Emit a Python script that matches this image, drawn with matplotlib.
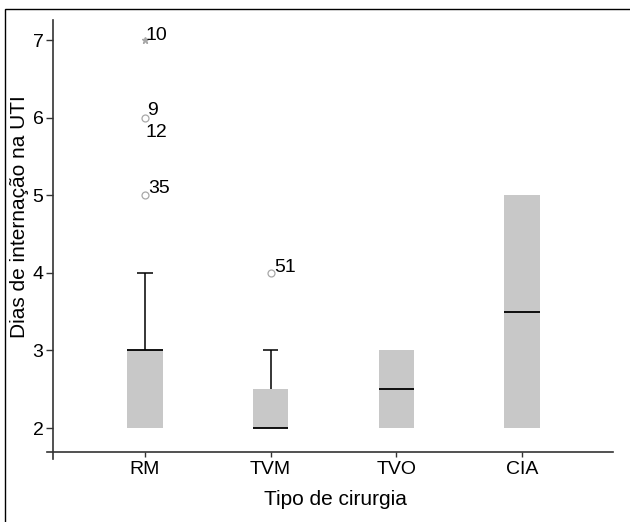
import matplotlib
matplotlib.use("Agg")
import matplotlib.pyplot as plt
from matplotlib.patches import Rectangle

plt.rcParams['font.family'] = ['Liberation Sans', 'DejaVu Sans']
plt.rcParams['font.size'] = 14

# dados do boxplot
tipos = ["RM", "TVM", "TVO", "CIA"]
q1 = [2, 2, 2, 2]
mediana = [3, 2, 2.5, 3.5]
q3 = [3, 2.5, 3, 5]
bigode_inf = [2, 2, 2, 2]
bigode_sup = [4, 3, 3, 5]

# outliers: (grupo, valor, rotulos, extremo)
outliers = [
    (0, 7, ["10"], True),
    (0, 6, ["9", "12"], False),
    (0, 5, ["35"], False),
    (1, 4, ["51"], False),
]

# deslocamento dos rotulos em pixels
desloc = {"10": (0, 0), "9": (2, 3), "12": (0, -19), "35": (3, 2), "51": (4, 1)}

fig = plt.figure(figsize=(6.3, 5.22), dpi=100)
ax = fig.add_axes([53 / 630, 1 - 452 / 522, 560 / 630, 432 / 522])

pos = list(range(1, len(tipos) + 1))
larg = 0.28
cap = 0.12

alturas = [b - a for a, b in zip(q1, q3)]
ax.bar(pos, alturas, bottom=q1, width=larg, color="#c8c8c8", edgecolor="none", zorder=2)
ax.hlines(mediana, [p - larg / 2 for p in pos], [p + larg / 2 for p in pos],
          colors="black", linewidth=1.3, zorder=3)

for i, p in enumerate(pos):
    if bigode_sup[i] > q3[i]:
        ax.vlines(p, q3[i], bigode_sup[i], colors="black", linewidth=1.1, zorder=1)
        ax.hlines(bigode_sup[i], p - cap / 2, p + cap / 2, colors="black", linewidth=1.1)
    if bigode_inf[i] < q1[i]:
        ax.vlines(p, bigode_inf[i], q1[i], colors="black", linewidth=1.1, zorder=1)
        ax.hlines(bigode_inf[i], p - cap / 2, p + cap / 2, colors="black", linewidth=1.1)

for g, v, rotulos, extremo in outliers:
    p = pos[g]
    if extremo:
        ax.plot(p, v, marker="*", color="#a8a8a8", markersize=5, linestyle="none")
    else:
        ax.plot(p, v, marker="o", markerfacecolor="white", markeredgecolor="#a8a8a8",
                markersize=5, markeredgewidth=0.9, linestyle="none")
    for r in rotulos:
        ax.annotate(r, (p, v), xytext=desloc[r], textcoords="offset pixels",
                    ha="left", va="baseline")

ax.set_xlim(0.2675, 4.725)
ax.set_ylim(1.691, 7.258)
ax.set_xticks(pos)
ax.set_xticklabels(tipos)
ax.set_yticks([2, 3, 4, 5, 6, 7])

for s in ["top", "right"]:
    ax.spines[s].set_visible(False)
for s in ["left", "bottom"]:
    ax.spines[s].set_color("#333333")
    ax.spines[s].set_linewidth(1.2)
ax.spines["left"].set_bounds(1.691 - 0.09, 7.258)
ax.spines["bottom"].set_bounds(0.2675 - 0.05, 4.725)
ax.tick_params(axis="x", direction="out", length=3.6, width=1, color="#333333", pad=3)
ax.tick_params(axis="y", direction="out", length=5, width=1, color="#333333", pad=1.8)

ax.set_ylabel("Dias de internação na UTI", fontsize=15)
ax.yaxis.set_label_coords(-0.043, 0.546)
ax.set_xlabel("Tipo de cirurgia", fontsize=15)
ax.xaxis.set_label_coords(0.505, -0.088)

# moldura
fig.patches.append(Rectangle((5 / 630, -0.1), 1.2, 1.1 - 9 / 522, transform=fig.transFigure,
                             fill=False, edgecolor="black", linewidth=1.0))

fig.savefig("out.png", dpi=100)
